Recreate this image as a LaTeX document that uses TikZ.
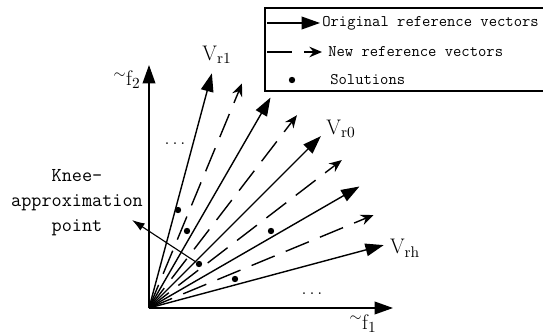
\documentclass[tikz,border=0pt]{standalone}
\usetikzlibrary{arrows.meta}

\begin{document}
\begin{tikzpicture}[
    origvec/.style={-{Triangle[length=13pt,width=9pt]}, line width=1pt},
    newvec/.style={-{Stealth[length=9pt,width=7.5pt,inset=3pt]}, line width=1pt, dash pattern=on 0.625cm off 0.3cm},
    soldot/.style={circle, fill, inner sep=0pt, minimum size=0.16cm},
    vlabel/.style={font=\fontsize{15}{18}\selectfont, inner sep=0pt},
    legtext/.style={font=\ttfamily\fontsize{11.5}{14}\selectfont, anchor=west, inner sep=0pt},
    ]

    \useasboundingbox (-3.725,-0.675) rectangle (9.85,7.7);

    \coordinate (o) at (0,0);

    % axes
    \coordinate (f1tip) at (0:6.1);
    \coordinate (f2tip) at (90:6.075);
    \draw[origvec] (o) -- (f1tip);
    \draw[origvec] (o) -- (f2tip);

    % original reference vectors
    \coordinate (rh) at (15:6.075);
    \coordinate (r4) at (30:6.075);
    \coordinate (r0) at (45:6.075);
    \coordinate (r2) at (60:6.075);
    \coordinate (r1) at (75:6.075);
    \draw[origvec] (o) -- (rh);
    \draw[origvec] (o) -- (r4);
    \draw[origvec] (o) -- (r0);
    \draw[origvec] (o) -- (r2);
    \draw[origvec] (o) -- (r1);

    % new reference vectors
    \coordinate (n1) at (22.5:6.075);
    \coordinate (n2) at (37.5:6.075);
    \coordinate (n3) at (52.5:6.075);
    \coordinate (n4) at (67.5:6.075);
    \draw[newvec] (o) -- (n1);
    \draw[newvec] (o) -- (n2);
    \draw[newvec] (o) -- (n3);
    \draw[newvec] (o) -- (n4);

    % solutions
    \node[soldot] (s1) at (0.725,2.45) {};
    \node[soldot] (s2) at (0.95,1.925) {};
    \node[soldot] (s3) at (1.25,1.1) {};
    \node[soldot] (s4) at (3.05,1.925) {};
    \node[soldot] (s5) at (2.15,0.725) {};

    % labels
    \node[vlabel] (lr1) at (1.7,6.325) {V$_{\mathrm{r1}}$};
    \node[vlabel] (lr0) at (4.8,4.475) {V$_{\mathrm{r0}}$};
    \node[vlabel] (lrh) at (6.4,1.5) {V$_{\mathrm{rh}}$};
    \node[vlabel] (lf2) at (-0.55,5.7) {${}^{\sim}$f$_{2}$};
    \node[vlabel] (lf1) at (5.35,-0.38) {${}^{\sim}$f$_{1}$};
    \node[font=\ttfamily\fontsize{11}{13}\selectfont] (dotsl) at (0.65,4.1) {...};
    \node[font=\ttfamily\fontsize{11}{13}\selectfont] (dotsr) at (4.075,0.35) {...};

    % knee point
    \node[font=\ttfamily\fontsize{14}{17.8}\selectfont, align=center, inner sep=0pt] (knee) at (-1.8,2.625) {Knee-\\approximation\\point};
    \coordinate (kneetip) at (-0.425,2.2);
    \draw[-{Latex[length=9pt,width=6pt]}, line width=0.8pt] (s3) -- (kneetip);

    % legend
    \draw[line width=1pt] (10,7.5) -- (2.9,7.5) -- (2.9,5.425) -- (10,5.425);
    \coordinate (l1a) at (2.95,7.125);
    \coordinate (l1b) at (4.275,7.125);
    \coordinate (l2a) at (2.95,6.4);
    \coordinate (l2b) at (4.325,6.4);
    \draw[origvec] (l1a) -- (l1b);
    \draw[newvec] (l2a) -- (l2b);
    \node[soldot] (l3) at (3.575,5.7) {};
    \node[legtext] (t1) at (4.325,7.125) {Original reference vectors};
    \node[legtext] (t2) at (4.475,6.4) {New reference vectors};
    \node[legtext] (t3) at (4.525,5.7) {Solutions};

\end{tikzpicture}
\end{document}
